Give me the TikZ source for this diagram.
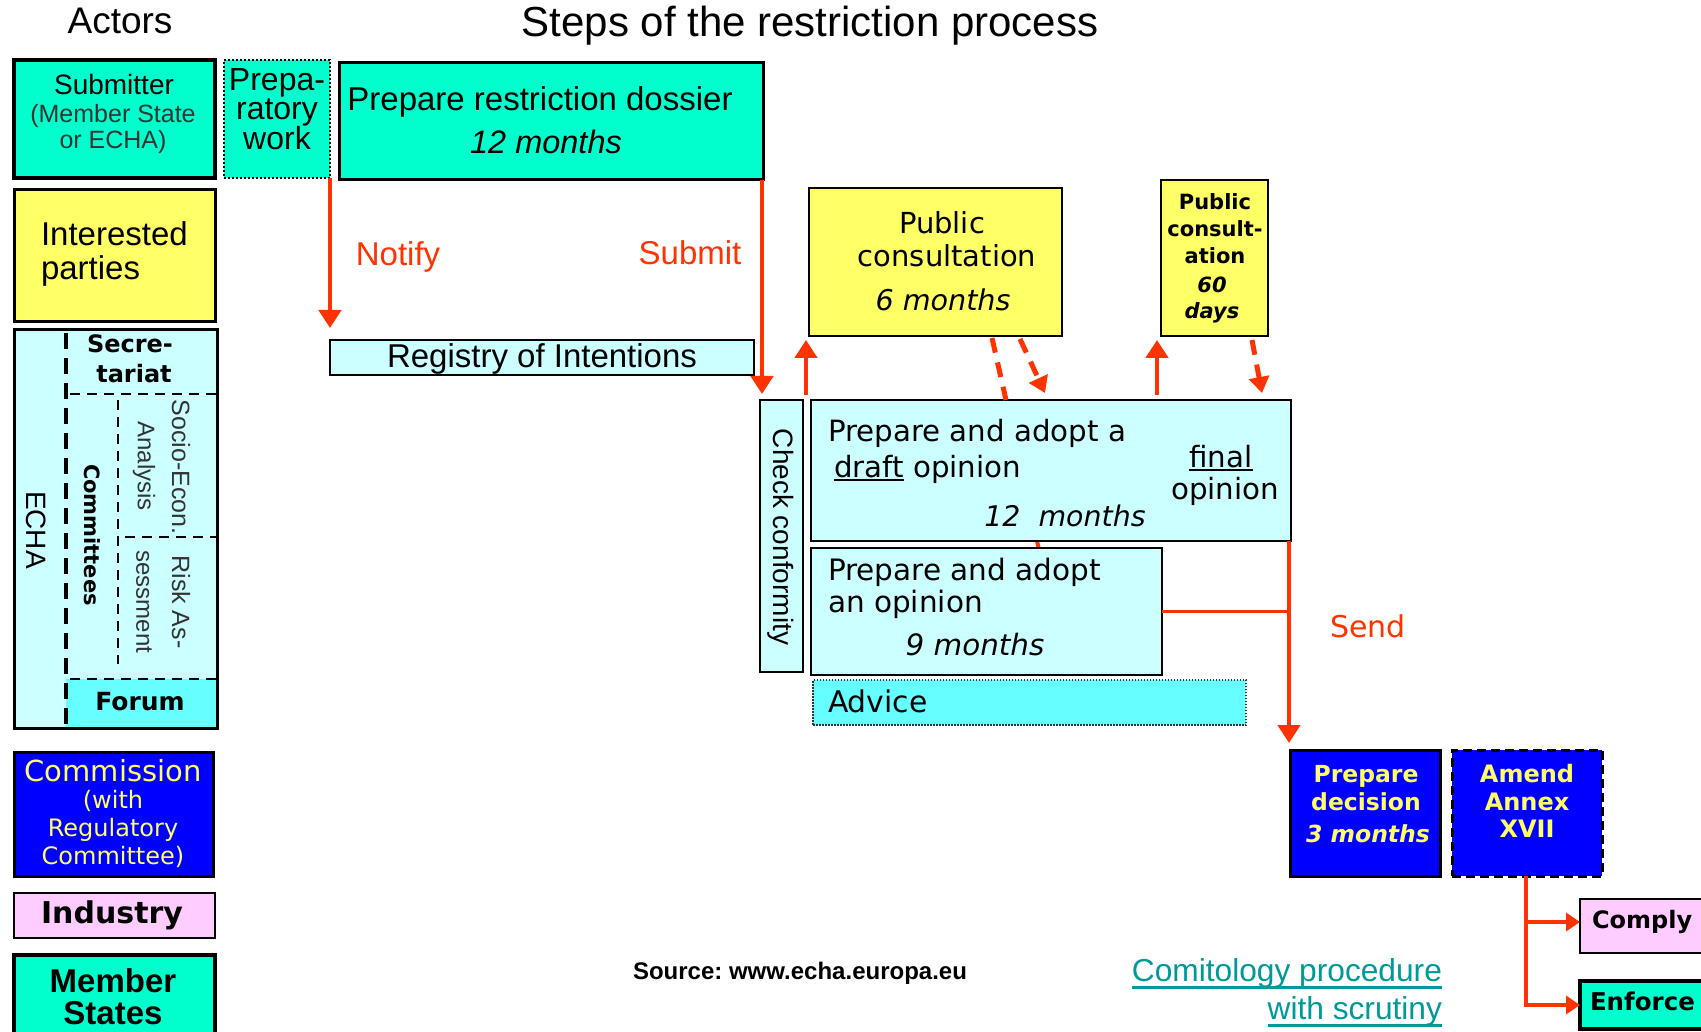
\documentclass[tikz,border=0pt]{standalone}
\usepackage{fontspec}
\setmainfont{Liberation Sans}
\newfontfamily\vd{DejaVu Sans}
\usetikzlibrary{arrows.meta}
\frenchspacing
\definecolor{aqua}{RGB}{0,255,204}
\definecolor{yel}{RGB}{255,255,102}
\definecolor{lcyan}{RGB}{204,255,255}
\definecolor{cyantwo}{RGB}{102,255,255}
\definecolor{bluebox}{RGB}{0,0,255}
\definecolor{pinkbox}{RGB}{255,204,255}
\definecolor{redc}{RGB}{255,51,0}
\definecolor{tealc}{RGB}{0,153,153}
\definecolor{ytext}{RGB}{255,255,102}
\definecolor{grayt}{RGB}{51,51,51}
\newcommand\fsz[1]{\fontsize{#1}{#1}\selectfont}
\newcommand\myul[3]{\setbox0\hbox{#3}\rlap{\rule[#1]{\wd0}{#2}}\box0\relax}
\begin{document}
\begin{tikzpicture}[x=1pt,y=-1pt,
  box/.style={draw=black,line width=2.5pt,inner sep=0pt,outer sep=0pt},
  fs/.style={execute at begin node={\fsz{#1}},yshift={-0.28*#1}},
  lbl/.style={inner sep=0pt,outer sep=0pt,anchor=base},
  lblw/.style={inner sep=0pt,outer sep=0pt,anchor=base west},
  lble/.style={inner sep=0pt,outer sep=0pt,anchor=base east},
  rlbl/.style={inner sep=0pt,outer sep=0pt,anchor=center,rotate=-90},
  rfs/.style={execute at begin node={\fsz{#1}}},
  redarr/.style={draw=redc,line width=4.5pt,-{Triangle[length=18pt,width=22pt]}},
  redarrs/.style={draw=redc,line width=4pt,-{Triangle[length=14pt,width=18pt]}},
  reddash/.style={draw=redc,line width=5pt,dash pattern=on 15pt off 10pt},
  reddasharr/.style={reddash,-{Triangle[length=16pt,width=20pt]}},
  echadash/.style={line width=2.5pt,dash pattern=on 10pt off 7pt}
  ]
\useasboundingbox (0,0) rectangle (1701,1032);
\fill[white] (0,0) rectangle (1701,1032);
\clip (0,0) rectangle (1701,1032);

% titles
\node[lbl,fs=37] (tact) at (120,23) {Actors};
\node[lbl,fs=42] (tsteps) at (810,25) {Steps of the restriction process};

% actor column
\node[box,line width=3.5pt,fill=aqua,minimum width=201pt,minimum height=118pt] (submitter) at (114.5,119) {};
\node[lbl,fs=28] (sub1) at (114,87) {Submitter};
\node[lbl,text=grayt,fs=25] (sub2) at (113,116) {(Member State};
\node[lbl,text=grayt,fs=25] (sub3) at (113,142) {or ECHA)};

\node[box,line width=3pt,fill=yel,minimum width=201pt,minimum height=132pt] (interested) at (114.5,256) {};
\node[lblw,fs=33] (int1) at (41,236) {Interested};
\node[lblw,fs=33] (int2) at (41,270) {parties};

\node[box,line width=3pt,fill=lcyan,minimum width=203pt,minimum height=398pt] (echa) at (115.5,529) {};
\fill[cyantwo] (66,679) rectangle (216,727);
\draw[line width=4pt,dash pattern=on 16pt off 9pt] (66,333) -- (66,726);
\draw[echadash] (70,394) -- (216,394);
\draw[echadash] (118,400) -- (118,664);
\draw[echadash] (125,537) -- (216,537);
\draw[echadash] (70,679) -- (216,679);
\node[lbl,font=\vd\bfseries,fs=24] (sec1) at (130,346) {Secre-};
\node[lbl,font=\vd\bfseries,fs=24] (sec2) at (134,376) {tariat};
\node[rlbl,rfs=28] (echat) at (36,530) {ECHA};
\node[rlbl,font=\vd\bfseries,rfs=21] (comm) at (92,535) {Committees};
\node[rlbl,text=grayt,rfs=25] (sea1) at (181,467) {Socio-Econ.};
\node[rlbl,text=grayt,rfs=24] (sea2) at (144,466) {Analysis};
\node[rlbl,text=grayt,rfs=25] (ra1) at (181,602) {Risk As-};
\node[rlbl,text=grayt,rfs=24] (ra2) at (144,602) {sessment};
\node[lbl,font=\vd\bfseries,fs=25] (forum) at (140,703) {Forum};

\node[box,line width=3pt,fill=bluebox,minimum width=199pt,minimum height=124pt] (commission) at (113.5,814) {};
\node[lbl,text=ytext,font=\vd,fs=29] (com1) at (113,773) {Commission};
\node[lbl,text=ytext,font=\vd,fs=24] (com2) at (113,802) {(with};
\node[lbl,text=ytext,font=\vd,fs=24] (com3) at (113,830) {Regulatory};
\node[lbl,text=ytext,font=\vd,fs=24] (com4) at (113,858) {Committee)};

\node[box,fill=pinkbox,minimum width=201pt,minimum height=45pt] (industry) at (114.5,915.5) {};
\node[lbl,font=\vd\bfseries,fs=30] (indt) at (112,915) {Industry};

\node[box,line width=3.5pt,fill=aqua,minimum width=201pt,minimum height=90pt] (mstates) at (114.5,1000) {};
\node[lbl,font=\bfseries,fs=33] (ms1) at (113,983) {Member};
\node[lbl,font=\bfseries,fs=33] (ms2) at (113,1015) {States};

% submitter row
\node[box,line width=2pt,dash pattern=on 2pt off 2pt,fill=aqua,minimum width=106pt,minimum height=118pt] (prep) at (277,119) {};
\node[lbl,fs=32] (pw1) at (277,82) {Prepa-};
\node[lbl,fs=32] (pw2) at (277,111) {ratory};
\node[lbl,fs=32] (pw3) at (277,141) {work};

\node[box,line width=3pt,fill=aqua,minimum width=424pt,minimum height=117pt] (dossier) at (551,121.5) {};
\node[lbl,fs=33] (dos1) at (540,101) {Prepare restriction dossier};
\node[lbl,font=\itshape,fs=32.5] (dos2) at (546,144) {12 months};

\node[box,fill=lcyan,minimum width=424pt,minimum height=35pt] (registry) at (542,357.5) {};
\node[lbl,fs=33] (regt) at (542,358) {Registry of Intentions};

\node[lbl,text=redc,fs=33] (notify) at (398,256) {Notify};
\node[lbl,text=redc,fs=33] (submit) at (690,255) {Submit};

\draw[redarr,shorten >=12pt] (prep.south east) -- (prep.south east |- registry.north);
\draw[redarr,shorten >=6pt] ([xshift=-1pt]dossier.south east) -- ([xshift=-1pt]dossier.south east |- 0,400);

% ECHA steps
\node[box,line width=2pt,fill=lcyan,minimum width=43pt,minimum height=272pt] (check) at (781.5,536) {};
\node[rlbl,rfs=28] (checkt) at (781,537) {Check conformity};

\node[box,fill=yel,minimum width=253pt,minimum height=148pt] (pubcons) at (935.5,262) {};
\node[lbl,font=\vd,fs=29] (pc1) at (942,225) {Public};
\node[lbl,font=\vd,fs=29] (pc2) at (947,258) {consultation};
\node[lbl,font=\vd\itshape,fs=28.6] (pc3) at (943,302) {6 months};

\node[box,fill=yel,minimum width=107pt,minimum height=156pt] (pub60) at (1214.5,258) {};
\node[lbl,font=\vd\bfseries,fs=21] (p61) at (1215,204) {Public};
\node[lbl,font=\vd\bfseries,fs=21] (p62) at (1215,231) {consult-};
\node[lbl,font=\vd\bfseries,fs=21] (p63) at (1215,258) {ation};
\node[lbl,font=\vd\bfseries\itshape,fs=21] (p64) at (1212,287) {60};
\node[lbl,font=\vd\bfseries\itshape,fs=21] (p65) at (1212,313) {days};

% consultation line running behind the draft box to the opinion box
\coordinate (dA1) at (992,338);
\coordinate (dA2) at (1006,400);
\coordinate (dA3) at (1039,550);
\draw[draw=redc,line width=4pt] (dA2) -- (dA3);

\node[box,fill=lcyan,minimum width=480pt,minimum height=141pt] (draft) at (1051,470.5) {};
\node[lblw,font=\vd,fs=29.3] (dr1) at (828,433) {Prepare and adopt a};
\node[lblw,font=\vd,fs=29.3] (dr2) at (834,469) {\myul{-4pt}{1.8pt}{draft} opinion};
\node[lbl,font=\vd\itshape,fs=28.4] (dr3) at (1065,519) {12\ \ months};
\node[lbl,font=\vd,fs=29.3] (dr4) at (1221,459) {\myul{-4pt}{1.8pt}{final}};
\node[lbl,font=\vd,fs=29.3] (dr5) at (1225,491) {opinion};

\node[box,fill=lcyan,minimum width=351pt,minimum height=127pt] (opinion) at (986.5,611.5) {};
\node[lblw,font=\vd,fs=29.5] (op1) at (828,572) {Prepare and adopt};
\node[lblw,font=\vd,fs=29.5] (op2) at (828,604) {an opinion};
\node[lbl,font=\vd\itshape,fs=29.4] (op3) at (975,647) {9 months};

\node[box,draw=grayt,line width=1.5pt,dash pattern=on 1.5pt off 1.5pt,fill=cyantwo,minimum width=433pt,minimum height=45pt] (advice) at (1029.5,702.5) {};
\node[lblw,font=\vd,fs=29.8] (advt) at (828,704) {Advice};

% arrows around consultations
\coordinate (upA) at (806,395);
\draw[redarr,shorten >=4pt] (upA) -- (upA |- pubcons.south);
\coordinate (upB) at (1157,0);
\draw[redarr,shorten >=4pt] ([yshift=5pt]draft.north -| upB) -- (upB |- pub60.south);
\draw[reddash] (dA1) -- (dA2);
\coordinate (dB1) at (1020,339);
\coordinate (dB2) at (1045,393);
\draw[reddasharr] (dB1) -- (dB2);
\coordinate (dC1) at (1252,340);
\coordinate (dC2) at (1262,393);
\draw[reddasharr] (dC1) -- (dC2);

% commission
\node[box,line width=3pt,fill=bluebox,minimum width=150pt,minimum height=126pt] (decision) at (1365,813) {};
\node[lbl,text=ytext,font=\vd\bfseries,fs=23.5] (de1) at (1366,776) {Prepare};
\node[lbl,text=ytext,font=\vd\bfseries,fs=23.5] (de2) at (1366,804) {decision};
\node[lbl,text=ytext,font=\vd\bfseries\itshape,fs=23.5] (de3) at (1368,836) {3 months};

\node[box,line width=3pt,dash pattern=on 9pt off 5pt,fill=bluebox,minimum width=150pt,minimum height=126pt] (amend) at (1527,813) {};
\node[lbl,text=ytext,font=\vd\bfseries,fs=24] (am1) at (1527,776) {Amend};
\node[lbl,text=ytext,font=\vd\bfseries,fs=24] (am2) at (1527,804) {Annex};
\node[lbl,text=ytext,font=\vd\bfseries,fs=24] (am3) at (1527,831) {XVII};

% send
\coordinate (sendx) at (1289,0);
\draw[redarr,shorten >=7pt] (draft.south -| sendx) -- (sendx |- decision.north);
\draw[draw=redc,line width=3pt] (opinion.east) -- (opinion.east -| sendx);
\node[lbl,text=redc,font=\vd,fs=30] (send) at (1368,629) {Send};

% industry / member states
\node[box,fill=pinkbox,minimum width=140pt,minimum height=54pt] (comply) at (1650,926) {};
\node[lblw,font=\vd\bfseries,fs=24] (compt) at (1592,922) {Comply};
\node[box,line width=3.5pt,fill=aqua,minimum width=140pt,minimum height=48pt] (enforce) at (1650,1005) {};
\node[lblw,font=\vd\bfseries,fs=24.5] (enft) at (1590,1004) {Enforce};

\coordinate (brx) at (1526,0);
\draw[redarrs] (amend.south -| brx) -- (brx |- enforce.west) -- (enforce.west);
\draw[redarrs] ([yshift=4pt]brx |- comply.west) -- ([yshift=4pt]comply.west);

% bottom texts
\node[lbl,font=\bfseries,fs=24] (source) at (800,973) {Source: www.echa.europa.eu};
\node[lble,text=tealc,fs=31.7] (comit1) at (1442,973) {\myul{-7pt}{2.5pt}{Comitology procedure}};
\node[lble,text=tealc,fs=31.7] (comit2) at (1442,1011) {\myul{-7pt}{2.5pt}{with scrutiny}};
\end{tikzpicture}
\end{document}
